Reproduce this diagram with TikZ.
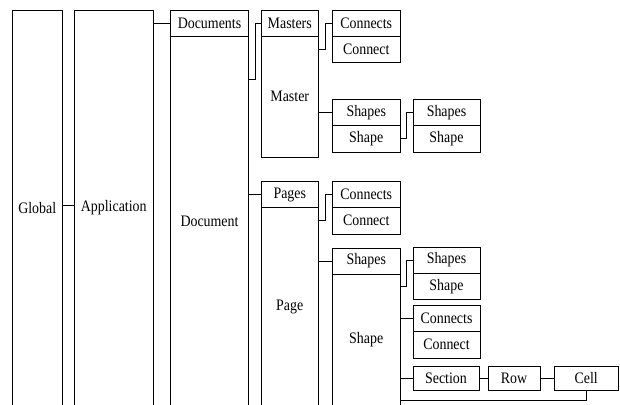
\documentclass[tikz,border=0pt]{standalone}
\usepackage{fontspec}
\setmainfont{Liberation Serif}[FakeStretch=0.87]
\usepackage{tikz}
\usetikzlibrary{positioning}

\begin{document}
\begin{tikzpicture}[x=1pt, y=-1pt, line width=0.9pt,
					every node/.style = {shape=rectangle, draw, align=center,
						inner sep=0pt, outer sep=0pt,
						font=\fontsize{16}{18}\selectfont},
					tall/.style = {anchor=north west, minimum height=396pt},
					head/.style = {anchor=north west, minimum height=26pt},
					item/.style = {minimum height=26.5pt}]
					\useasboundingbox (0,0) rectangle (620,404);
					\clip (0,0) rectangle (620,404);

					\node[tall, minimum width=49.5pt] (global) at (12.5,10) {Global};
					\node[tall, minimum width=78.5pt] (app) at (74.5,10) {Application};
					\node[head, minimum width=78pt] (docs) at (170.5,10) {Documents};
					\node[minimum width=78pt, minimum height=370pt, below=0pt of docs] (doc) {Document};

					\node[head, minimum width=56.5pt] (masters) at (261.5,10) {Masters};
					\node[minimum width=56.5pt, minimum height=121pt, below=0pt of masters] (master) {Master};
					\node[head, minimum width=67.5pt] (mconnects) at (332.5,10) {Connects};
					\node[item, minimum width=67.5pt, below=0pt of mconnects] (mconnect) {Connect};
					\node[head, minimum width=67.5pt] (mshapes) at (332.5,99.5) {Shapes};
					\node[item, minimum width=67.5pt, below=0pt of mshapes] (mshape) {Shape};
					\node[head, minimum width=67pt] (mshapes2) at (413,99.5) {Shapes};
					\node[item, minimum width=67pt, below=0pt of mshapes2] (mshape2) {Shape};

					\node[head, minimum width=56.5pt] (pages) at (261.5,181.5) {Pages};
					\node[minimum width=56.5pt, minimum height=198.5pt, below=0pt of pages] (page) {Page};
					\node[head, minimum width=67.5pt] (pconnects) at (332.5,181.5) {Connects};
					\node[item, minimum width=67.5pt, below=0pt of pconnects] (pconnect) {Connect};
					\node[head, minimum width=67.5pt] (pshapes) at (332.5,248) {Shapes};
					\node[minimum width=67.5pt, minimum height=132pt, below=0pt of pshapes] (pshape) {Shape};

					\node[head, minimum width=67pt] (sshapes) at (413,247) {Shapes};
					\node[item, minimum width=67pt, below=0pt of sshapes] (sshape) {Shape};
					\node[head, minimum width=67pt] (sconnects) at (413,305.5) {Connects};
					\node[item, minimum width=67pt, below=0pt of sconnects] (sconnect) {Connect};
					\node[anchor=north west, minimum width=66pt, minimum height=23.5pt] (section) at (413,366.5) {Section};
					\node[minimum width=52pt, minimum height=23.5pt, right=9pt of section] (row) {Row};
					\node[minimum width=64.5pt, minimum height=23.5pt, right=14pt of row] (cell) {Cell};

					\draw ([yshift=3pt]global.east) -- ([yshift=3pt]global.east -| app.west);
					\draw (app.east |- docs.west) -- (docs.west);
					\draw (doc.east |- 0,79) -- ++(6.5,0) |- (masters.west);
					\draw (doc.east |- pages.west) -- (pages.west);
					\draw (master.east |- mconnect.west) -- ++(7,0) |- (mconnects.west);
					\draw (master.east |- mshapes.west) -- (mshapes.west);
					\draw (mshape.east) -- ++(6.5,0) |- (mshapes2.west);
					\draw (page.east |- pconnect.west) -- ++(7,0) |- (pconnects.west);
					\draw (page.east |- pshapes.west) -- (pshapes.west);
					\draw (pshape.east |- sshape.west) -- ++(6,0) |- (sshapes.west);
					\draw (pshape.east |- sconnects.west) -- (sconnects.west);
					\draw (pshape.east |- section.west) -- (section.west);
					\draw (section) -- (row);
					\draw (row) -- (cell);
					\draw (cell.south) |- (pshape.east |- 0,400);
				\end{tikzpicture}
\end{document}
